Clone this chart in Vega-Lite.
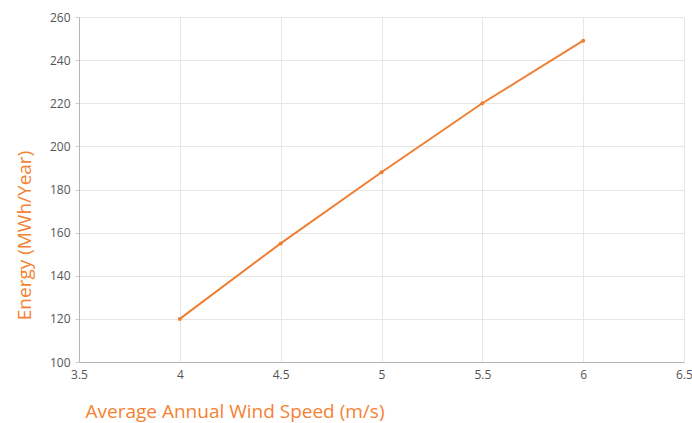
{
  "$schema": "https://vega.github.io/schema/vega-lite/v6.json",
  "width": 605,
  "height": 345,
  "autosize": {"type": "none"},
  "padding": {"left": 79, "top": 17, "right": 8, "bottom": 61},
  "background": "white",
  "data": {"values": [
    {"speed": 4, "energy": 120},
    {"speed": 4.5, "energy": 155},
    {"speed": 5, "energy": 188},
    {"speed": 5.5, "energy": 220},
    {"speed": 6, "energy": 249}
  ]},
  "mark": {"type": "line", "color": "#F07F32", "strokeWidth": 2, "point": {"filled": true, "size": 16, "color": "#F07F32"}},
  "encoding": {
    "x": {"field": "speed", "type": "quantitative",
      "scale": {"domain": [3.5, 6.5], "nice": false, "zero": false},
      "axis": {"title": "Average Annual Wind Speed (m/s)", "values": [3.5, 4, 4.5, 5, 5.5, 6, 6.5], "format": "~g",
        "labelFlush": false, "ticks": false, "labelPadding": 7}},
    "y": {"field": "energy", "type": "quantitative",
      "scale": {"domain": [100, 260], "nice": false, "zero": false},
      "axis": {"title": "Energy (MWh/Year)", "values": [100, 120, 140, 160, 180, 200, 220, 240, 260],
        "tickSize": 4, "labelPadding": 5, "titleX": -55, "titleY": 218, "titleAngle": -90, "titleAlign": "center", "titleBaseline": "middle"}}
  },
  "config": {
    "view": {"stroke": null},
    "font": "Open Sans",
    "axis": {
      "labelFont": "Open Sans", "labelFontSize": 12, "labelColor": "#555555",
      "titleFont": "Open Sans", "titleFontSize": 19, "titleFontWeight": "normal", "titleColor": "#F58232",
      "domainColor": "#b5b5b5", "tickColor": "#cccccc", "gridColor": "#e6e6e6", "gridWidth": 1
    },
    "axisX": {"titleX": 6, "titleY": 49, "titleAlign": "left", "titleBaseline": "middle"}
  }
}
